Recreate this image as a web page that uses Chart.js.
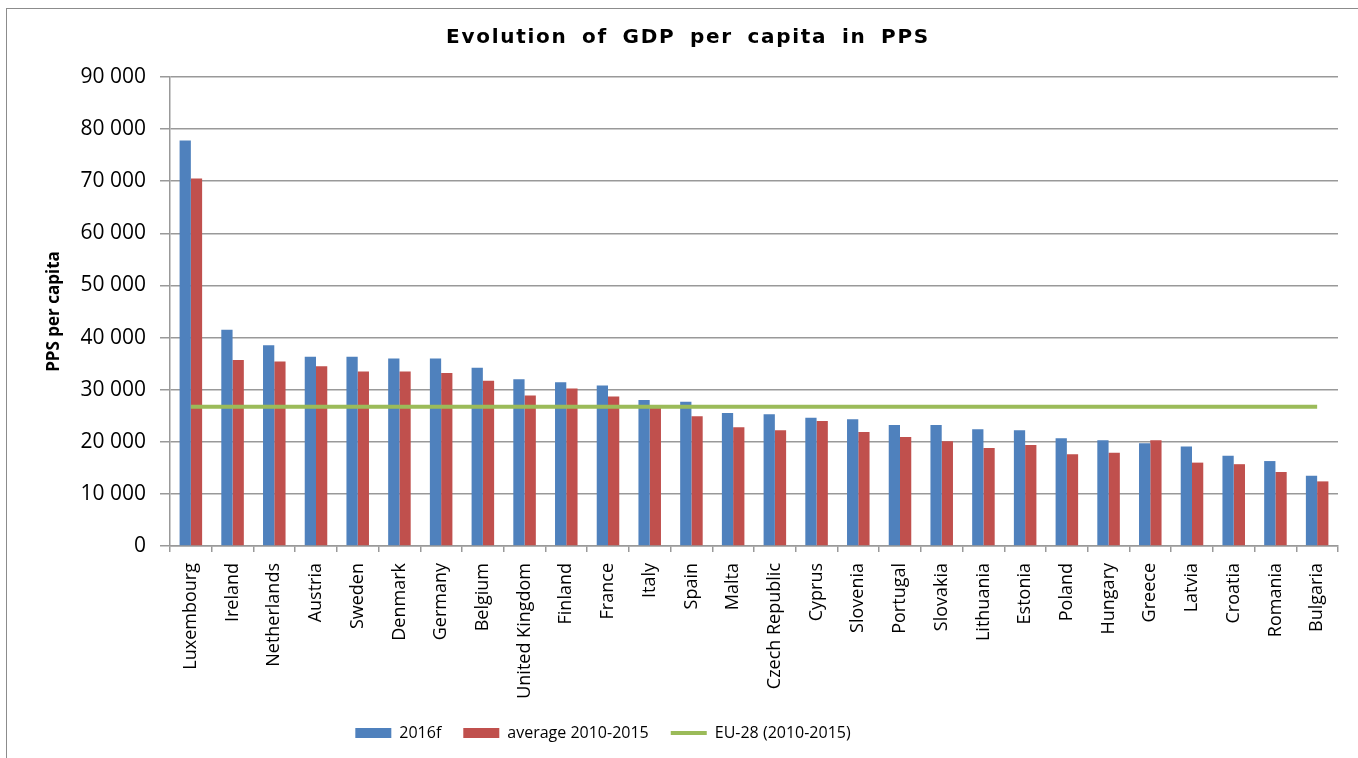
<!DOCTYPE html>
<html>
<head>
<meta charset="utf-8">
<title>Evolution of GDP per capita in PPS</title>
<script src="https://cdn.jsdelivr.net/npm/chart.js@4/dist/chart.umd.min.js"></script>
<style>
  html, body { margin: 0; padding: 0; background: #fff; }
  #frame {
    position: absolute; left: 6px; top: 8px; width: 1400px; height: 800px;
    border-left: 1.5px solid #8c8c8c; border-top: 1.5px solid #8c8c8c;
  }
  #wrap { position: absolute; left: 0; top: 0; width: 1358px; height: 758px; }
</style>
</head>
<body>
<div id="frame"></div>
<div id="wrap"><canvas id="gdpChart"></canvas></div>
<script>
// GDP per capita in PPS
const countries = [
  'Luxembourg', 'Ireland', 'Netherlands', 'Austria', 'Sweden', 'Denmark', 'Germany',
  'Belgium', 'United Kingdom', 'Finland', 'France', 'Italy', 'Spain', 'Malta',
  'Czech Republic', 'Cyprus', 'Slovenia', 'Portugal', 'Slovakia', 'Lithuania',
  'Estonia', 'Poland', 'Hungary', 'Greece', 'Latvia', 'Croatia', 'Romania', 'Bulgaria'
];
const gdp2016f = [
  77800, 41500, 38500, 36300, 36300, 36000, 36000,
  34200, 32000, 31400, 30800, 28000, 27700, 25500,
  25300, 24600, 24300, 23200, 23200, 22400,
  22200, 20700, 20300, 19700, 19100, 17300, 16300, 13500
];
const avg2010to2015 = [
  70500, 35700, 35400, 34500, 33500, 33500, 33200,
  31700, 28900, 30200, 28700, 26500, 24900, 22800,
  22200, 24000, 21900, 20900, 20100, 18800,
  19400, 17600, 17900, 20300, 16000, 15700, 14200, 12400
];
const eu28 = [
  26700, 26700, 26700, 26700, 26700, 26700, 26700,
  26700, 26700, 26700, 26700, 26700, 26700, 26700,
  26700, 26700, 26700, 26700, 26700, 26700,
  26700, 26700, 26700, 26700, 26700, 26700, 26700, 26700
];
const yTicks = [0, 10000, 20000, 30000, 40000, 50000, 60000, 70000, 80000, 90000];
const chartTitle = 'Evolution of GDP per capita in PPS';

const BLUE = '#4F81BD';
const RED = '#C0504D';
const GREEN = '#9BBB59';
const GRID = '#999999';

const fmt = v => String(v).replace(/\B(?=(\d{3})+(?!\d))/g, ' ');

// title drawn by hand so the wide letter spacing of the original can be kept
const spacedTitle = {
  id: 'spacedTitle',
  afterDraw(chart) {
    const c = chart.ctx;
    c.save();
    c.font = 'bold 20px "DejaVu Sans"';
    c.fillStyle = '#000';
    c.textAlign = 'center';
    c.textBaseline = 'middle';
    if ('letterSpacing' in c) c.letterSpacing = '1.7px';
    if ('wordSpacing' in c) c.wordSpacing = '6px';
    c.fillText(chartTitle, 688, 38);
    c.restore();
  }
};

// legend in the original sits left of centre, under the middle of the page
const legendShift = {
  id: 'legendShift',
  afterLayout(chart) {
    chart.legend.left -= 86;
    chart.legend.right -= 86;
  }
};

const ctx = document.getElementById('gdpChart');

new Chart(ctx, {
  type: 'bar',
  data: {
    labels: countries,
    datasets: [
      {
        label: '2016f',
        data: gdp2016f,
        backgroundColor: BLUE,
        order: 1
      },
      {
        label: 'average 2010-2015',
        data: avg2010to2015,
        backgroundColor: RED,
        order: 1
      },
      {
        type: 'line',
        label: 'EU-28 (2010-2015)',
        data: eu28,
        borderColor: GREEN,
        backgroundColor: GREEN,
        borderWidth: 4,
        pointRadius: 0,
        fill: false,
        order: 0
      }
    ]
  },
  plugins: [spacedTitle, legendShift],
  options: {
    responsive: true,
    maintainAspectRatio: false,
    animation: false,
    layout: { padding: { left: 40, right: 20, top: 77, bottom: 7 } },
    datasets: {
      bar: { barPercentage: 1, categoryPercentage: 0.54 }
    },
    plugins: {
      title: { display: false },
      legend: {
        position: 'bottom',
        labels: {
          color: '#000',
          font: { family: 'Open Sans', size: 16 },
          usePointStyle: true,
          pointStyleWidth: 36,
          boxHeight: 10,
          padding: 22,
          sort: (a, b) => a.datasetIndex - b.datasetIndex,
          generateLabels(chart) {
            const items = Chart.defaults.plugins.legend.labels.generateLabels(chart);
            return items.map(it => {
              if (it.datasetIndex === 2) {
                it.pointStyle = 'line';
                it.lineWidth = 4;
                it.strokeStyle = GREEN;
              } else {
                it.pointStyle = 'rect';
                it.lineWidth = 0;
              }
              return it;
            });
          }
        }
      },
      tooltip: { enabled: false }
    },
    scales: {
      x: {
        offset: true,
        grid: {
          offset: true,
          drawOnChartArea: false,
          drawTicks: true,
          tickLength: 6,
          color: GRID,
          lineWidth: 1.5
        },
        border: { display: true, color: GRID, width: 1.5 },
        ticks: {
          color: '#000',
          font: { family: 'Open Sans', size: 18 },
          minRotation: 90,
          maxRotation: 90,
          autoSkip: false,
          padding: 11
        },
        afterFit(scale) { scale.height = 157; }
      },
      y: {
        min: 0,
        max: 90000,
        afterBuildTicks(scale) { scale.ticks = yTicks.map(v => ({ value: v })); },
        grid: {
          color: GRID,
          lineWidth: 1.5,
          drawTicks: true,
          tickLength: 10
        },
        border: { display: true, color: GRID, width: 1.5 },
        ticks: {
          color: '#000',
          font: { family: 'Open Sans', size: 21 },
          padding: 14,
          callback: v => fmt(v)
        },
        title: {
          display: true,
          text: 'PPS per capita',
          color: '#000',
          font: { family: 'Open Sans', size: 17, weight: 'bold' },
          padding: { top: 4, bottom: 0 }
        },
        afterFit(scale) { scale.width = 130; }
      }
    }
  }
});
</script>
</body>
</html>
